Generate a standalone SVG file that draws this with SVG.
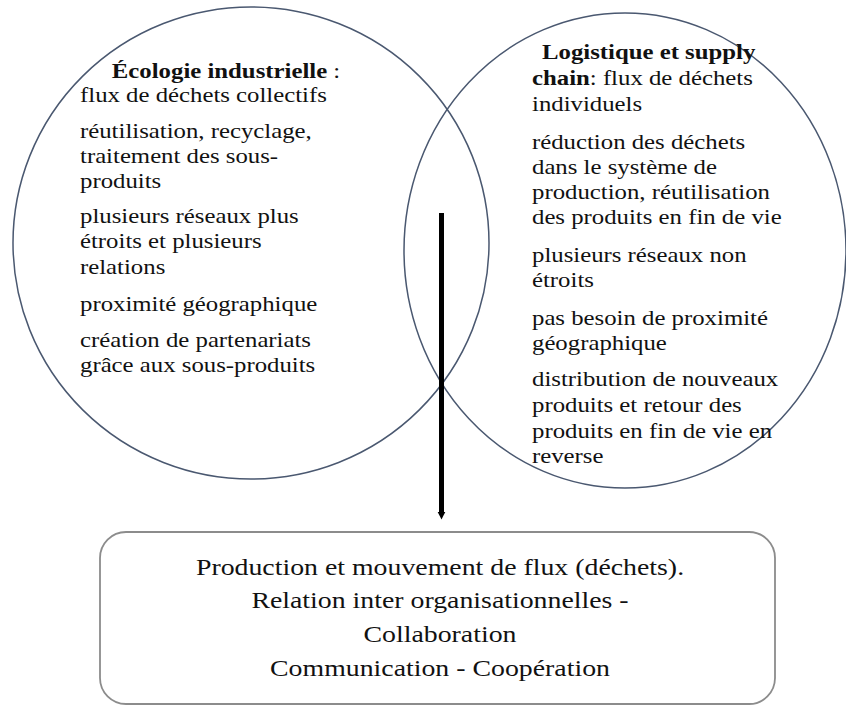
<svg xmlns="http://www.w3.org/2000/svg" width="846" height="706" viewBox="0 0 846 706">
<style>
.circ{fill:none;stroke:#4a5870;stroke-width:1.5}
.box{fill:#fff;stroke:#8c8c8c;stroke-width:1.8}
.t{font-family:'Liberation Serif',serif;font-size:21px;fill:#111}
.b{font-weight:bold}
.bt{font-family:'Liberation Serif',serif;font-size:23px;fill:#111;text-anchor:middle}
.conn{stroke:#000;stroke-width:5;fill:none}
</style>
<defs>
<marker id="ah" viewBox="0 0 10 10" refX="3" refY="5" markerWidth="1.6" markerHeight="1.8" orient="auto" markerUnits="strokeWidth">
<path d="M0,0 L10,5 L0,10 z" fill="#000"/>
</marker>
</defs>
<rect width="846" height="706" fill="#fff"/>
<g id="node-left">
<ellipse class="circ" cx="251" cy="243" rx="238" ry="236"/>
<g transform="translate(80,0) scale(1.18,1)">
<text class="t" x="27" y="78"><tspan class="b">Écologie industrielle</tspan> :</text>
<text class="t" x="0" y="102">flux de déchets collectifs</text>
<text class="t" x="0" y="138">réutilisation, recyclage,</text>
<text class="t" x="0" y="163">traitement des sous-</text>
<text class="t" x="0" y="188">produits</text>
<text class="t" x="0" y="223">plusieurs réseaux plus</text>
<text class="t" x="0" y="248">étroits et plusieurs</text>
<text class="t" x="0" y="274">relations</text>
<text class="t" x="0" y="311">proximité géographique</text>
<text class="t" x="0" y="347">création de partenariats</text>
<text class="t" x="0" y="372">grâce aux sous-produits</text>
</g>
</g>
<g id="node-right">
<ellipse class="circ" cx="625" cy="250.5" rx="221" ry="237.5"/>
<g transform="translate(532,0) scale(1.18,1)">
<text class="t" x="8.5" y="59"><tspan class="b">Logistique et supply</tspan></text>
<text class="t" x="0" y="85"><tspan class="b">chain</tspan>: flux de déchets</text>
<text class="t" x="0" y="111">individuels</text>
<text class="t" x="0" y="149">réduction des déchets</text>
<text class="t" x="0" y="174">dans le système de</text>
<text class="t" x="0" y="199">production, réutilisation</text>
<text class="t" x="0" y="224">des produits en fin de vie</text>
<text class="t" x="0" y="262">plusieurs réseaux non</text>
<text class="t" x="0" y="287">étroits</text>
<text class="t" x="0" y="325">pas besoin de proximité</text>
<text class="t" x="0" y="350">géographique</text>
<text class="t" x="0" y="386">distribution de nouveaux</text>
<text class="t" x="0" y="412">produits et retour des</text>
<text class="t" x="0" y="438">produits en fin de vie en</text>
<text class="t" x="0" y="463">reverse</text>
</g>
</g>
<g id="node-box">
<rect class="box" x="100" y="532" width="675" height="172" rx="26" ry="26"/>
<g transform="translate(440,0) scale(1.21,1)">
<text class="bt" x="0" y="575">Production et mouvement de flux (déchets).</text>
<text class="bt" x="0" y="608">Relation inter organisationnelles -</text>
<text class="bt" x="0" y="642">Collaboration</text>
<text class="bt" x="0" y="676">Communication - Coopération</text>
</g>
</g>
<g id="connectors">
<line class="conn" x1="441.5" y1="213" x2="441.5" y2="514" marker-end="url(#ah)"/>
</g>
</svg>
